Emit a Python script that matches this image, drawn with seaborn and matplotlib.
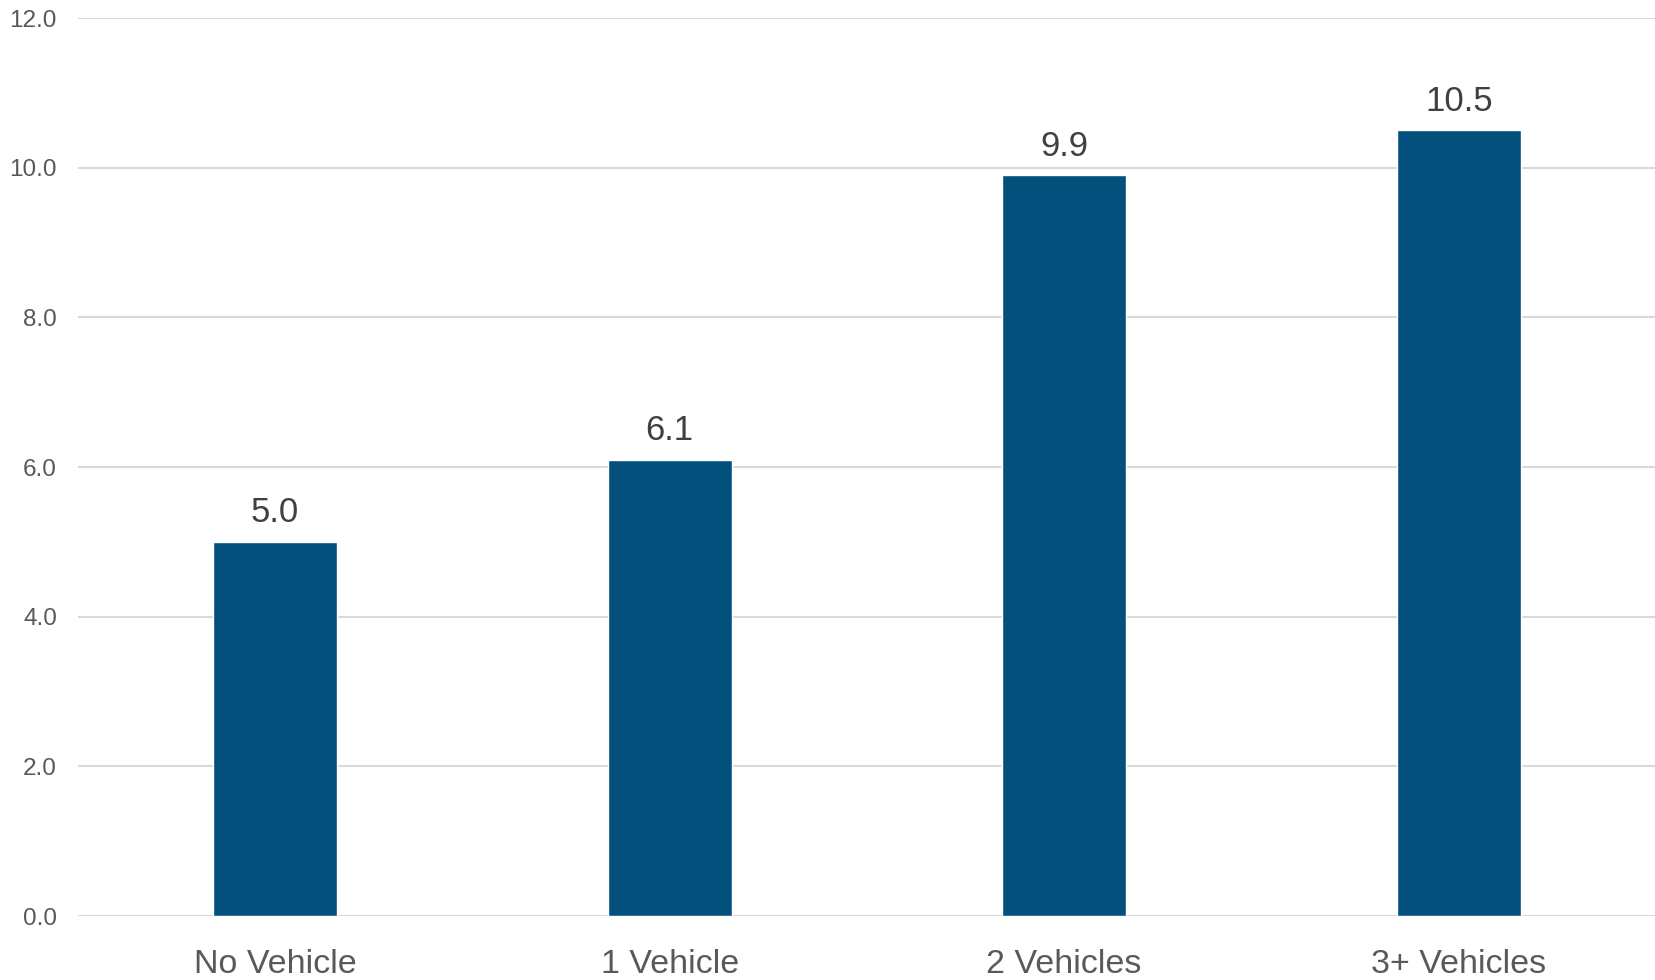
import matplotlib
matplotlib.use("Agg")
import matplotlib.pyplot as plt
import seaborn as sns
import pandas as pd

categories = ["No Vehicle", "1 Vehicle", "2 Vehicles", "3+ Vehicles"]
values = [5.0, 6.1, 9.9, 10.5]
yticks = [0, 2, 4, 6, 8, 10, 12]

sns.set_theme(style="white")
plt.rcParams['font.family'] = ['Liberation Sans', 'DejaVu Sans']

df = pd.DataFrame({"cat": categories, "val": values})

fig = plt.figure(figsize=(16.56, 9.8), dpi=100)
ax = fig.add_axes([0.047, 0.0653, 0.953, 0.9163])

sns.barplot(data=df, x="cat", y="val", color="#03507D", width=0.314,
            saturation=1, ax=ax, zorder=3)

ax.set_ylim(0, 12)
ax.set_xlim(-0.5, 3.5)
ax.set_yticks(yticks)
ax.set_yticklabels([f"{t:.1f}" for t in yticks])
ax.yaxis.grid(True, color="#D9D9D9", linewidth=1.5, zorder=0)
ax.set_axisbelow(True)
for s in ax.spines.values():
    s.set_visible(False)
ax.tick_params(axis="y", length=0, pad=15, labelsize=17.5, labelcolor="#595959")
ax.tick_params(axis="x", length=0, pad=24, labelsize=24.5, labelcolor="#595959")
ax.set_xlabel("")
ax.set_ylabel("")

for c in ax.containers:
    ax.bar_label(c, labels=[f"{v:.1f}" for v in values], padding=9,
                 fontsize=25, color="#404040")

fig.savefig("out.png", dpi=100)
